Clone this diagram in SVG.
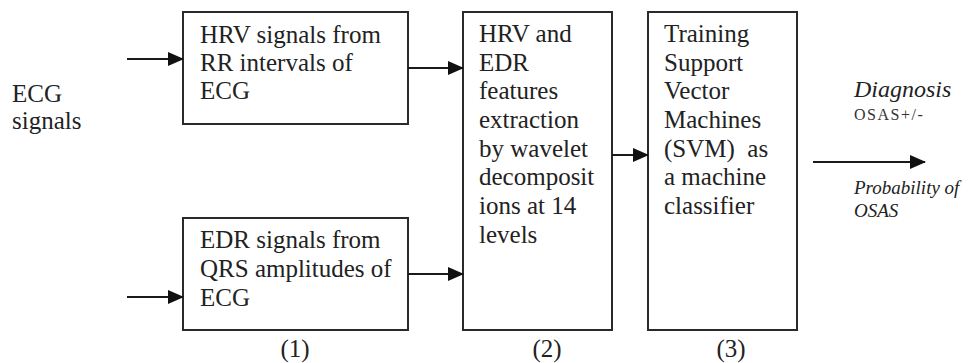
<svg xmlns="http://www.w3.org/2000/svg" width="970" height="363" viewBox="0 0 970 363">
<defs>
<style>
.box{fill:#fff;stroke:#2a2a2a;stroke-width:2}
.t{font-size:25px;fill:#222}
.i{font-style:italic;fill:#222}
.c{stroke:#1a1a1a;stroke-width:2;fill:none;marker-end:url(#ah)}
</style>
<marker id="ah" markerWidth="16" markerHeight="14" refX="15" refY="7" orient="auto" markerUnits="userSpaceOnUse">
<path d="M0,0 L16,7 L0,14 Z" fill="#111"/>
</marker>
</defs>
<rect width="970" height="363" fill="#fff"/>
<g font-family="Liberation Serif, Times New Roman, serif">
<g id="input">
<text class="t" x="12" y="102">ECG</text>
<text class="t" x="12" y="129">signals</text>
</g>
<g id="box-hrv">
<rect class="box" x="183" y="12" width="225" height="112"/>
<text class="t" x="200" y="43">HRV signals from</text>
<text class="t" x="200" y="71">RR intervals of</text>
<text class="t" x="200" y="99">ECG</text>
</g>
<g id="box-edr">
<rect class="box" x="183" y="218" width="225" height="112"/>
<text class="t" x="200" y="248">EDR signals from</text>
<text class="t" x="200" y="277">QRS amplitudes of</text>
<text class="t" x="200" y="306">ECG</text>
</g>
<g id="box-features">
<rect class="box" x="463" y="12" width="149" height="318"/>
<text class="t" x="479" y="42">HRV and</text>
<text class="t" x="479" y="71">EDR</text>
<text class="t" x="479" y="99">features</text>
<text class="t" x="479" y="128">extraction</text>
<text class="t" x="479" y="157">by wavelet</text>
<text class="t" x="479" y="185">decomposit</text>
<text class="t" x="479" y="214">ions at 14</text>
<text class="t" x="479" y="243">levels</text>
</g>
<g id="box-svm">
<rect class="box" x="648" y="12" width="149" height="318"/>
<text class="t" x="664" y="42">Training</text>
<text class="t" x="664" y="71">Support</text>
<text class="t" x="664" y="99">Vector</text>
<text class="t" x="664" y="128">Machines</text>
<text class="t" x="664" y="157" xml:space="preserve">(SVM)  as</text>
<text class="t" x="664" y="185">a machine</text>
<text class="t" x="664" y="214">classifier</text>
</g>
<g id="output">
<text class="i" x="854" y="97" font-size="24">Diagnosis</text>
<text x="854" y="120" font-size="16" letter-spacing="1.5" fill="#333">OSAS+/-</text>
<text class="i" x="854" y="194" font-size="19">Probability of</text>
<text class="i" x="854" y="217" font-size="19">OSAS</text>
</g>
<g id="stage-labels">
<text class="t" x="295" y="357" text-anchor="middle">(1)</text>
<text class="t" x="547" y="357" text-anchor="middle">(2)</text>
<text class="t" x="731" y="357" text-anchor="middle">(3)</text>
</g>
</g>
<g id="connectors">
<line class="c" x1="127" y1="59" x2="183" y2="59"/>
<line class="c" x1="127" y1="297" x2="183" y2="297"/>
<line class="c" x1="408" y1="68" x2="463" y2="68"/>
<line class="c" x1="408" y1="274" x2="463" y2="274"/>
<line class="c" x1="612" y1="155" x2="648" y2="155"/>
<line class="c" x1="813" y1="162" x2="925" y2="162"/>
</g>
</svg>
